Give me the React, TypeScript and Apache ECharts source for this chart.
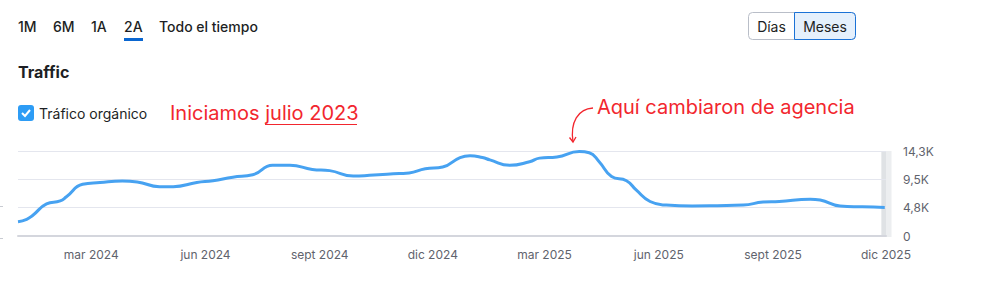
import React, { useEffect, useRef } from "react";
import * as echarts from "echarts";

const dates = [
  "2024-01-02", "2024-01-09", "2024-01-14", "2024-01-25", "2024-02-05", "2024-02-10",
  "2024-02-23", "2024-03-08", "2024-03-26", "2024-04-07", "2024-04-25", "2024-05-06",
  "2024-05-25", "2024-06-07", "2024-06-23", "2024-07-09", "2024-07-25", "2024-08-08",
  "2024-08-26", "2024-09-09", "2024-09-28", "2024-10-11", "2024-11-04", "2024-11-12",
  "2024-11-25", "2024-12-09", "2024-12-23", "2024-12-31", "2025-01-10", "2025-01-16",
  "2025-02-01", "2025-02-17", "2025-02-25", "2025-03-11", "2025-03-29", "2025-04-06",
  "2025-04-14", "2025-04-24", "2025-05-06", "2025-05-14", "2025-05-25", "2025-06-07",
  "2025-06-28", "2025-07-18", "2025-08-08", "2025-08-24", "2025-09-06", "2025-10-01",
  "2025-10-09", "2025-10-25", "2025-11-12", "2025-11-30",
];
const traffic = [
  2400, 2800, 3500, 5400, 5900, 6600,
  8700, 9000, 9250, 9100, 8300, 8300,
  9000, 9300, 9900, 10300, 11900, 11900,
  11200, 11000, 10100, 10200, 10500, 10600,
  11300, 11600, 13200, 13500, 13200, 12800,
  11900, 12500, 13100, 13300, 14200, 14000,
  12500, 10000, 9300, 7700, 5800, 5200,
  5050, 5100, 5200, 5700, 5800, 6200,
  6050, 5050, 4900, 4800,
];
const xTickDates = ["2024-03-01", "2024-06-01", "2024-09-01", "2024-12-01", "2025-03-01", "2025-06-01", "2025-09-01", "2025-12-01"];
const monthNames = ["ene", "feb", "mar", "abr", "may", "jun", "jul", "ago", "sept", "oct", "nov", "dic"];
const rangeTabs = ["1M", "6M", "1A", "2A", "Todo el tiempo"];
const yMax = 14300;

const FONT = "Inter, 'Noto Sans', sans-serif";

function ts(d: string) {
  const [y, m, dd] = d.split("-").map(Number);
  return Date.UTC(y, m - 1, dd);
}

export default function App() {
  const ref = useRef<HTMLDivElement>(null);
  useEffect(() => {
    document.body.style.margin = "0";
    const chart = echarts.init(ref.current!, undefined, { renderer: "svg" });
    const tabX = [18, 53, 91, 124, 159];
    const graphic: any[] = [];
    rangeTabs.forEach((t, i) => {
      graphic.push({
        type: "text", x: tabX[i], y: 26,
        style: { text: t, font: `500 14px ${FONT}`, fill: "#1d1f24", verticalAlign: "middle" },
      });
    });
    graphic.push({ type: "rect", shape: { x: 124, y: 38, width: 19, height: 3 }, style: { fill: "#0a66d0" } });
    graphic.push({ type: "rect", shape: { x: 748.5, y: 12.5, width: 107, height: 27, r: 4 }, style: { fill: "#fff", stroke: "#b9bec8", lineWidth: 1 } });
    graphic.push({ type: "rect", shape: { x: 794.5, y: 12.5, width: 61, height: 27, r: [0, 4, 4, 0] }, style: { fill: "#e5f0fc", stroke: "#1b72d6", lineWidth: 1 } });
    graphic.push({ type: "text", x: 771.5, y: 26, style: { text: "Días", font: `14px ${FONT}`, fill: "#1d1f24", align: "center", verticalAlign: "middle" } });
    graphic.push({ type: "text", x: 825, y: 26, style: { text: "Meses", font: `14px ${FONT}`, fill: "#1d1f24", align: "center", verticalAlign: "middle" } });
    graphic.push({ type: "text", x: 18, y: 72, style: { text: "Traffic", font: `bold 16px ${FONT}`, fill: "#1d1f24", verticalAlign: "middle" } });
    graphic.push({ type: "rect", shape: { x: 18, y: 105, width: 16, height: 16, r: 3 }, style: { fill: "#2d9cf5" } });
    graphic.push({ type: "polyline", shape: { points: [[22, 113], [25, 116], [30, 110]] }, style: { stroke: "#fff", lineWidth: 2, fill: "none" } });
    graphic.push({ type: "text", x: 39, y: 113, style: { text: "Tráfico orgánico", font: `14px ${FONT}`, fill: "#1d1f24", verticalAlign: "middle" } });
    graphic.push({ type: "text", x: 170, y: 113, style: { text: "Iniciamos julio 2023", font: `20px ${FONT}`, fill: "#f2262e", verticalAlign: "middle" } });
    graphic.push({ type: "line", shape: { x1: 265, y1: 124.5, x2: 357, y2: 124.5 }, style: { stroke: "#f2262e", lineWidth: 1.2 } });
    graphic.push({ type: "text", x: 597, y: 107, style: { text: "Aquí cambiaron de agencia", font: `20px ${FONT}`, fill: "#f2262e", verticalAlign: "middle" } });
    graphic.push({ type: "bezierCurve", shape: { x1: 593, y1: 108, cpx1: 578, cpy1: 109, cpx2: 570, cpy2: 122, x2: 573, y2: 142 }, style: { stroke: "#f2262e", lineWidth: 1.3, fill: "none" } });
    graphic.push({ type: "polyline", shape: { points: [[569.5, 137.5], [573, 142], [576, 137]] }, style: { stroke: "#f2262e", lineWidth: 1.3, fill: "none" } });
    graphic.push({ type: "rect", shape: { x: 881.5, y: 151, width: 10, height: 86 }, style: { fill: "#eceef0" } });
    graphic.push({ type: "rect", shape: { x: 881.5, y: 151, width: 4.5, height: 86 }, style: { fill: "#dfe2e5" } });
    graphic.push({ type: "line", shape: { x1: 0, y1: 206.5, x2: 3, y2: 206.5 }, style: { stroke: "#c8cbd2", lineWidth: 1 } });
    graphic.push({ type: "line", shape: { x1: 0, y1: 238.5, x2: 3, y2: 238.5 }, style: { stroke: "#c8cbd2", lineWidth: 1 } });

    chart.setOption({
      animation: false,
      textStyle: { fontFamily: FONT },
      grid: { left: 18, right: 96, top: 151, bottom: 49, containLabel: false },
      xAxis: {
        type: "value",
        min: ts("2024-01-02"),
        max: ts("2025-12-01"),
        axisLine: { show: true, onZero: false, lineStyle: { color: "#d4d6dd", width: 2 } },
        axisTick: { show: false },
        splitLine: { show: false },
        axisLabel: {
          customValues: xTickDates.map(ts),
          color: "#5f636d",
          fontSize: 12,
          margin: 12,
          showMaxLabel: true,
          formatter: (v: number) => {
            const d = new Date(v);
            return `${monthNames[d.getUTCMonth()]} ${d.getUTCFullYear()}`;
          },
        },
      },
      yAxis: {
        type: "value",
        position: "right",
        min: 0,
        max: yMax,
        interval: yMax / 3,
        axisLine: { show: false },
        axisTick: { show: false },
        splitLine: { lineStyle: { color: "#e4e6ee", width: 1 } },
        axisLabel: {
          color: "#5f636d",
          fontSize: 12,
          margin: 17,
          align: "left",
          formatter: (v: number) => (v === 0 ? "0" : (v / 1000).toFixed(1).replace(".", ",") + "K"),
        },
      },
      series: [
        {
          type: "line",
          data: dates.map((d, i) => [ts(d), traffic[i]]),
          smooth: 0.5,
          showSymbol: false,
          lineStyle: { color: "#47a2f1", width: 3 },
          z: 3,
        },
      ],
      graphic,
    });
    return () => chart.dispose();
  }, []);
  return <div ref={ref} style={{ width: 982, height: 285 }} />;
}
